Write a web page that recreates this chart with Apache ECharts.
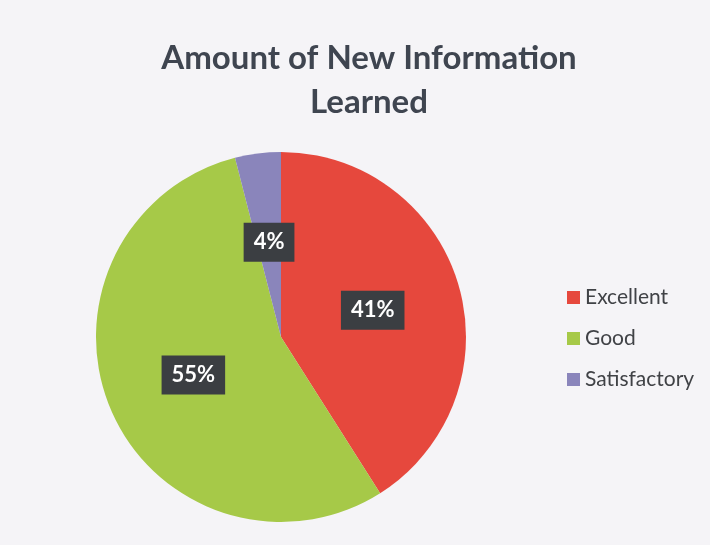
<!DOCTYPE html>
<html>
<head>
<meta charset="utf-8">
<script src="https://cdn.jsdelivr.net/npm/echarts@6/dist/echarts.min.js"></script>
<style>
  html, body { margin: 0; padding: 0; background: #f7f6f9; }
  #chart { width: 710px; height: 545px; }
</style>
</head>
<body>
<div id="chart"></div>
<script>
const categories = ['Excellent', 'Good', 'Satisfactory'];
const values = [41, 55, 4];
const colors = ['#e6483d', '#a6c948', '#8a85bb'];

const chart = echarts.init(document.getElementById('chart'));

chart.setOption({
  backgroundColor: '#f5f4f7',
  color: colors,
  title: {
    text: 'Amount of New Information\nLearned',
    left: 364,
    top: 31,
    textAlign: 'center',
    textStyle: {
      fontFamily: 'Lato',
      fontWeight: 'bold',
      fontSize: 33,
      lineHeight: 44,
      color: '#3f4550'
    }
  },
  legend: {
    orient: 'vertical',
    left: 562,
    top: 282,
    itemWidth: 13,
    itemHeight: 13,
    itemGap: 20,
    icon: 'rect',
    textStyle: {
      fontFamily: 'Lato',
      fontSize: 21,
      color: '#404246'
    },
    data: categories
  },
  series: [{
    type: 'pie',
    center: [281, 337],
    radius: [0, 185],
    startAngle: 90,
    clockwise: true,
    avoidLabelOverlap: false,
    label: {
      show: true,
      position: 'inside',
      formatter: '{c}%',
      fontFamily: 'Lato',
      fontWeight: 'bold',
      fontSize: 22,
      color: '#ffffff',
      backgroundColor: '#3b3e42',
      padding: [9, 10, 8, 10]
    },
    labelLine: { show: false },
    emphasis: { disabled: true },
    data: categories.map((name, i) => ({ name: name, value: values[i] }))
  }]
});
</script>
</body>
</html>
